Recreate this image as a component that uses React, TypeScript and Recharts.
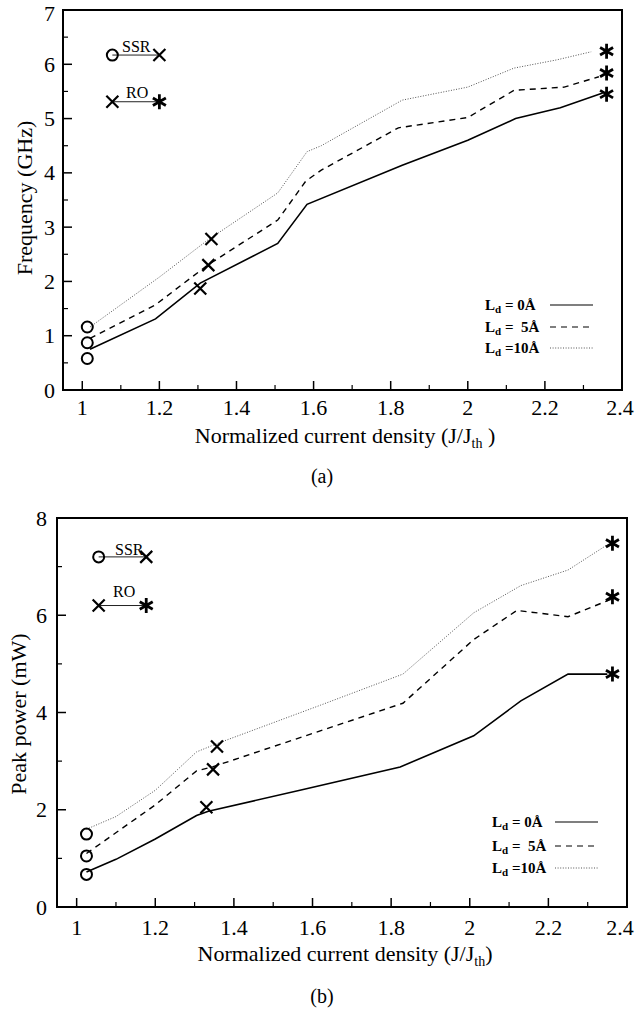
import React from 'react'
import { ComposedChart, Line, Scatter, XAxis, YAxis, ReferenceArea } from 'recharts'

const SERIF = '"Liberation Serif", "Times New Roman", serif'

// x axis shared by both panels (J/Jth)
const xTicks = [1, 1.2, 1.4, 1.6, 1.8, 2, 2.2, 2.4]
const xMinor = [1.1, 1.3, 1.5, 1.7, 1.9, 2.1, 2.3]

// ---- (a) frequency (GHz) ----
const freqJ0 = [1.02, 1.19, 1.306, 1.507, 1.583, 1.83, 2.0, 2.124, 2.24, 2.35]
const freqF0 = [0.75, 1.31, 1.97, 2.7, 3.42, 4.14, 4.6, 5.0, 5.2, 5.47]
const freqJ5 = [1.02, 1.19, 1.325, 1.507, 1.58, 1.62, 1.82, 2.0, 2.12, 2.25, 2.34]
const freqF5 = [0.95, 1.57, 2.3, 3.13, 3.85, 4.05, 4.83, 5.02, 5.52, 5.58, 5.77]
const freqJ10 = [1.02, 1.2, 1.325, 1.507, 1.583, 1.62, 1.83, 2.0, 2.12, 2.23, 2.32]
const freqF10 = [1.16, 2.08, 2.76, 3.63, 4.39, 4.5, 5.34, 5.58, 5.93, 6.08, 6.23]
const freqSsrJ = [1.013, 1.013, 1.013]
const freqSsrF = [0.58, 0.87, 1.16]
const freqRoJ = [1.306, 1.327, 1.335]
const freqRoF = [1.87, 2.3, 2.78]
const freqEndJ = [2.36, 2.36, 2.36]
const freqEndF = [5.45, 5.84, 6.24]
const freqKeyJ = [1.078, 1.2]
const freqKeySsr = 6.17
const freqKeyRo = 5.31
const freqTicks = [0, 1, 2, 3, 4, 5, 6, 7]
const freqMinor = [0.5, 1.5, 2.5, 3.5, 4.5, 5.5, 6.5]

// ---- (b) peak power (mW) ----
const powJ0 = [1.025, 1.1, 1.2, 1.305, 1.335, 1.568, 1.823, 2.01, 2.13, 2.25, 2.35]
const powP0 = [0.72, 0.98, 1.4, 1.88, 1.97, 2.4, 2.88, 3.52, 4.24, 4.79, 4.79]
const powJ5 = [1.025, 1.2, 1.305, 1.345, 1.83, 2.01, 2.12, 2.25, 2.36]
const powP5 = [1.1, 2.1, 2.8, 2.88, 4.19, 5.5, 6.1, 5.97, 6.33]
const powJ10 = [1.025, 1.1, 1.2, 1.305, 1.357, 1.62, 1.83, 2.01, 2.13, 2.25, 2.35]
const powP10 = [1.6, 1.86, 2.4, 3.19, 3.36, 4.15, 4.79, 6.05, 6.61, 6.93, 7.45]
const powSsrJ = [1.025, 1.025, 1.025]
const powSsrP = [0.67, 1.05, 1.5]
const powRoJ = [1.33, 1.347, 1.357]
const powRoP = [2.05, 2.83, 3.3]
const powEndJ = [2.363, 2.363, 2.363]
const powEndP = [4.79, 6.38, 7.48]
const powKeyJ = [1.056, 1.177]
const powKeySsr = 7.2
const powKeyRo = 6.2
const powTicks = [0, 2, 4, 6, 8]
const powMinor = [1, 3, 5, 7]

const zip = (xs: number[], ys: number[]) => xs.map((x, i) => ({ x, y: ys[i] }))
const merge = (a: number[], b: number[]) => [...a, ...b].sort((p, q) => p - q)

const Ring = ({ cx, cy }: any) => (
  <circle cx={cx} cy={cy} r={5.5} fill="none" stroke="#000" strokeWidth={2} />
)
const Cross = ({ cx, cy }: any) => (
  <path d={`M${cx - 6},${cy - 6}L${cx + 6},${cy + 6}M${cx - 6},${cy + 6}L${cx + 6},${cy - 6}`} stroke="#000" strokeWidth={2.2} />
)
const Star = ({ cx, cy }: any) => {
  const r = 7.5
  const a = r * Math.cos(Math.PI / 6)
  const b = r * Math.sin(Math.PI / 6)
  return (
    <path
      d={`M${cx},${cy - r}L${cx},${cy + r}M${cx - a},${cy - b}L${cx + a},${cy + b}M${cx - a},${cy + b}L${cx + a},${cy - b}`}
      stroke="#000"
      strokeWidth={2.8}
    />
  )
}

const SOLID = { stroke: '#000', strokeWidth: 1.6 }
const DASHED = { stroke: '#000', strokeWidth: 1.4, strokeDasharray: '6 5' }
const DOTTED = { stroke: '#555', strokeWidth: 1, strokeDasharray: '1 1.6' }

// ticks point into the plot; only majors carry a label
const makeXTick = (majors: number[], gap: number) => ({ x, y, payload }: any) => {
  const major = majors.includes(payload.value)
  return (
    <g>
      <line x1={x} x2={x} y1={y} y2={y - (major ? 9 : 5)} stroke="#000" strokeWidth={major ? 1.5 : 1.2} />
      {major && (
        <text x={Math.min(x, 620)} y={y + gap} textAnchor="middle" fontSize={22} fontFamily={SERIF} fill="#000">
          {String(payload.value)}
        </text>
      )}
    </g>
  )
}
const makeYTick = (majors: number[], gap: number) => ({ x, y, payload }: any) => {
  const major = majors.includes(payload.value)
  return (
    <g>
      <line x1={x} x2={x + (major ? 9 : 5)} y1={y} y2={y} stroke="#000" strokeWidth={major ? 1.5 : 1.2} />
      {major && (
        <text x={x - gap} y={Math.max(y + 7.5, 21)} textAnchor="end" fontSize={22} fontFamily={SERIF} fill="#000">
          {String(payload.value)}
        </text>
      )}
    </g>
  )
}

type Pt = { x: number; y: number }
type PanelProps = {
  top: number
  height: number
  margin: { top: number; right: number; bottom: number; left: number }
  xAxisH: number
  yAxisW: number
  yMax: number
  yTicks: number[]
  yMinor: number[]
  xGap: number
  yGap: number
  l0: Pt[]
  l5: Pt[]
  l10: Pt[]
  keyJ: number[]
  keySsr: number
  keyRo: number
  rings: Pt[]
  crosses: Pt[]
  stars: Pt[]
}

function Panel(p: PanelProps) {
  const xDom: [number, number] = [0.95, 2.4]
  const yDom: [number, number] = [0, p.yMax]
  const ssrKey = [{ x: p.keyJ[0], y: p.keySsr }, { x: p.keyJ[1], y: p.keySsr }]
  const roKey = [{ x: p.keyJ[0], y: p.keyRo }, { x: p.keyJ[1], y: p.keyRo }]
  return (
    <div style={{ position: 'absolute', left: 0, top: p.top }}>
      <ComposedChart width={636} height={p.height} margin={p.margin}>
        <XAxis
          dataKey="x" type="number" domain={xDom} ticks={merge(xTicks, xMinor)} allowDataOverflow interval={0}
          height={p.xAxisH} tickSize={0} tickMargin={0} tickLine={false} axisLine={false}
          tick={makeXTick(xTicks, p.xGap)}
        />
        <YAxis
          dataKey="y" type="number" domain={yDom} ticks={merge(p.yTicks, p.yMinor)} allowDataOverflow interval={0}
          width={p.yAxisW} tickSize={0} tickMargin={0} tickLine={false} axisLine={false}
          tick={makeYTick(p.yTicks, p.yGap)}
        />
        <ReferenceArea x1={xDom[0]} x2={xDom[1]} y1={yDom[0]} y2={yDom[1]} fill="none" fillOpacity={0} stroke="#000" strokeWidth={2} />
        <Line data={p.l10} dataKey="y" type="linear" dot={false} {...DOTTED} isAnimationActive={false} />
        <Line data={p.l5} dataKey="y" type="linear" dot={false} {...DASHED} isAnimationActive={false} />
        <Line data={p.l0} dataKey="y" type="linear" dot={false} {...SOLID} isAnimationActive={false} />
        <Line data={ssrKey} dataKey="y" type="linear" dot={false} stroke="#222" strokeWidth={1} isAnimationActive={false} />
        <Line data={roKey} dataKey="y" type="linear" dot={false} stroke="#222" strokeWidth={1} isAnimationActive={false} />
        <Scatter data={p.rings} dataKey="y" shape={Ring} isAnimationActive={false} />
        <Scatter data={p.crosses} dataKey="y" shape={Cross} isAnimationActive={false} />
        <Scatter data={p.stars} dataKey="y" shape={Star} isAnimationActive={false} />
      </ComposedChart>
    </div>
  )
}

function LegendRows({ x, lineX, ys }: { x: number; lineX: number; ys: number[] }) {
  const labels = ['= 0Å', '=  5Å', '=10Å']
  const styles = [SOLID, DASHED, DOTTED]
  return (
    <g>
      {labels.map((t, i) => (
        <g key={i}>
          <text x={x} y={ys[i] + 5} fontFamily={SERIF} fontSize={15} fontWeight="bold" fill="#000" style={{ whiteSpace: 'pre' }}>
            L<tspan fontSize={11} dy={3} fill="#000">d</tspan>
            <tspan dy={-3} fill="#000">{' ' + t}</tspan>
          </text>
          <line x1={lineX} x2={lineX + 43} y1={ys[i]} y2={ys[i]} {...styles[i]} strokeWidth={1.2} />
        </g>
      ))}
    </g>
  )
}

export default function App() {
  const ringsA = [...zip(freqSsrJ, freqSsrF), { x: freqKeyJ[0], y: freqKeySsr }]
  const crossesA = [...zip(freqRoJ, freqRoF), { x: freqKeyJ[1], y: freqKeySsr }, { x: freqKeyJ[0], y: freqKeyRo }]
  const starsA = [...zip(freqEndJ, freqEndF), { x: freqKeyJ[1], y: freqKeyRo }]
  const ringsB = [...zip(powSsrJ, powSsrP), { x: powKeyJ[0], y: powKeySsr }]
  const crossesB = [...zip(powRoJ, powRoP), { x: powKeyJ[1], y: powKeySsr }, { x: powKeyJ[0], y: powKeyRo }]
  const starsB = [...zip(powEndJ, powEndP), { x: powKeyJ[1], y: powKeyRo }]

  return (
    <div style={{ position: 'absolute', left: 0, top: 0, width: 636, height: 1011, background: '#fff' }}>
      <Panel
        top={0} height={430} margin={{ top: 10, right: 14, bottom: 0, left: 0 }} xAxisH={40} yAxisW={63}
        yMax={7} yTicks={freqTicks} yMinor={freqMinor} xGap={25} yGap={8}
        l0={zip(freqJ0, freqF0)} l5={zip(freqJ5, freqF5)} l10={zip(freqJ10, freqF10)}
        keyJ={freqKeyJ} keySsr={freqKeySsr} keyRo={freqKeyRo}
        rings={ringsA} crosses={crossesA} stars={starsA}
      />
      <Panel
        top={500} height={450} margin={{ top: 18, right: 9, bottom: 0, left: 0 }} xAxisH={43} yAxisW={57}
        yMax={8} yTicks={powTicks} yMinor={powMinor} xGap={28} yGap={10}
        l0={zip(powJ0, powP0)} l5={zip(powJ5, powP5)} l10={zip(powJ10, powP10)}
        keyJ={powKeyJ} keySsr={powKeySsr} keyRo={powKeyRo}
        rings={ringsB} crosses={crossesB} stars={starsB}
      />
      <svg width={636} height={1011} style={{ position: 'absolute', left: 0, top: 0, pointerEvents: 'none' }}>
        <g fontFamily={SERIF} fill="#000">
          <text x={32} y={198} fontSize={22} textAnchor="middle" transform="rotate(-90 32 198)">Frequency (GHz)</text>
          <text x={345} y={443} fontSize={22} textAnchor="middle" style={{ whiteSpace: 'pre' }}>
            Normalized current density (J/J<tspan fontSize={14} dy={5} fill="#000">th</tspan><tspan dy={-5} fill="#000"> )</tspan>
          </text>
          <text x={322} y={483} fontSize={20} textAnchor="middle">(a)</text>
          <text x={122} y={52} fontSize={16}>SSR</text>
          <text x={126} y={98} fontSize={16}>RO</text>

          <text x={26} y={714} fontSize={22} textAnchor="middle" transform="rotate(-90 26 714)">Peak power (mW)</text>
          <text x={345} y={961} fontSize={22} textAnchor="middle">
            Normalized current density (J/J<tspan fontSize={14} dy={5} fill="#000">th</tspan><tspan dy={-5} fill="#000">)</tspan>
          </text>
          <text x={322} y={1003} fontSize={20} textAnchor="middle">(b)</text>
          <text x={115} y={555} fontSize={16}>SSR</text>
          <text x={113} y={597} fontSize={16}>RO</text>
        </g>
        <LegendRows x={485} lineX={550} ys={[305, 327, 348]} />
        <LegendRows x={492} lineX={555} ys={[822, 846, 868]} />
      </svg>
    </div>
  )
}
